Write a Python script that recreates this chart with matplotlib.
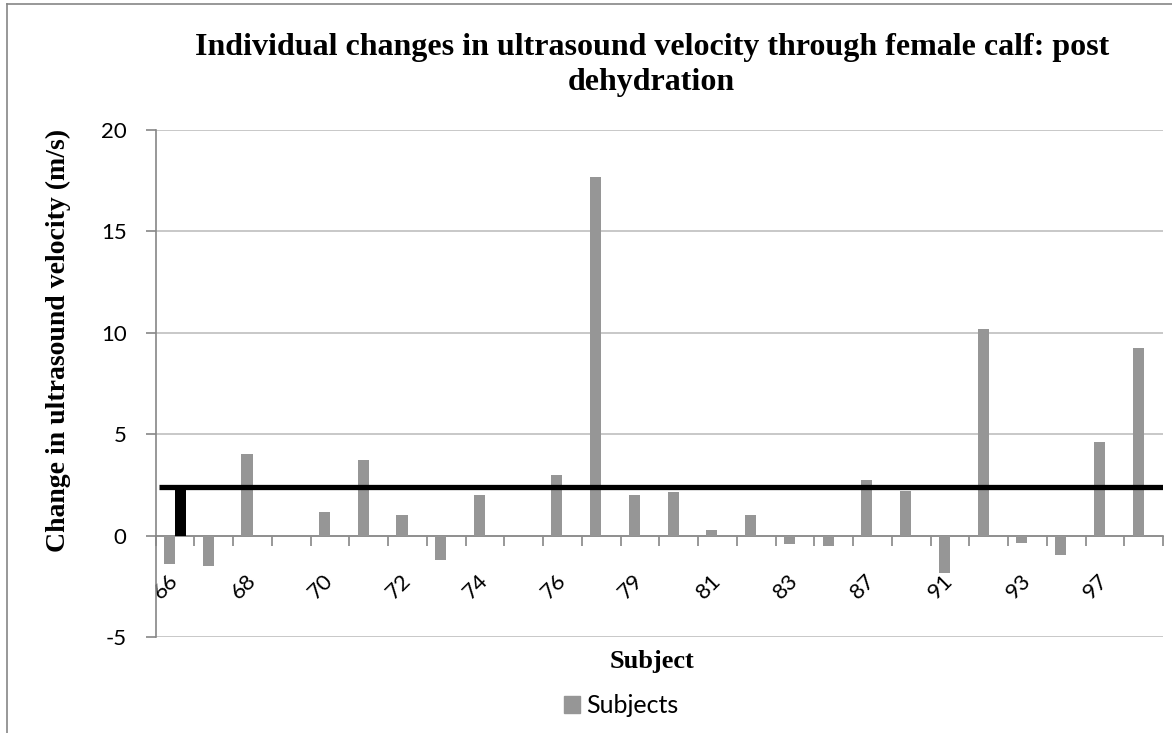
import matplotlib
matplotlib.use("Agg")
import matplotlib.pyplot as plt
from matplotlib.lines import Line2D
from matplotlib.patches import Patch
import numpy as np

plt.rcParams['axes.unicode_minus'] = False

# subject ids (only every other one is labelled on the axis)
subjects = ['66', '67', '68', '69', '70', '71', '72', '73', '74', '75', '76', '77', '79',
            '80', '81', '82', '83', '84', '87', '88', '91', '92', '93', '94', '97', '98']
# change in ultrasound velocity (m/s)
changes = [-1.4, -1.5, 4.0, 0.0, 1.15, 3.75, 1.0, -1.2, 2.0, 0.0, 3.0, 17.7, 2.0,
           2.15, 0.3, 1.0, -0.4, -0.5, 2.75, 2.2, -1.85, 10.2, -0.35, -0.95, 4.6, 9.25]
# second series, only the first subject has a value
mean_bar = [2.3]
mean_line = 2.42

grey = '#969696'
axis_grey = '#868686'
grid_grey = '#bfbfbf'

fig = plt.figure(figsize=(11.72, 7.33), dpi=100)
ax = fig.add_axes([155.7/1172, 96/733, (1163-155.7)/1172, 507/733])

x = np.arange(len(subjects))
w = 1/3.5
ax.bar(x - w/2, changes, width=w, color=grey, zorder=3, label='Subjects')
ax.bar(x[:len(mean_bar)] + w/2, mean_bar, width=w, color='black', zorder=3)
ax.hlines(mean_line, -0.41, len(subjects) - 0.5, color='black', linewidth=3.8, zorder=4)

ax.set_xlim(-0.5, len(subjects) - 0.5)
ax.set_ylim(-5, 20)
ax.set_yticks([-5, 0, 5, 10, 15, 20])
ax.yaxis.grid(True, color=grid_grey, linewidth=1.2, zorder=0)
ax.set_axisbelow(True)

for s in ['top', 'right']:
    ax.spines[s].set_visible(False)
ax.spines['left'].set_color(axis_grey)
ax.spines['bottom'].set_color(axis_grey)
ax.spines['bottom'].set_position(('data', 0))
ax.spines['left'].set_linewidth(1.2)
ax.spines['bottom'].set_linewidth(1.2)

# category labels every other subject
ax.set_xticks(x[::2])
ax.set_xticklabels(subjects[::2], rotation=45, ha='right', va='center',
                   rotation_mode='anchor', fontsize=16, family='Lato')
ax.tick_params(axis='x', which='major', length=0, pad=30)
ax.set_xticks(np.arange(-0.5, len(subjects) + 0.5, 1), minor=True)
ax.tick_params(axis='x', which='minor', length=7, width=1.2, color=axis_grey, direction='out')
ax.tick_params(axis='y', length=7, width=1.2, color=axis_grey, pad=14, labelsize=16)
for t in ax.get_yticklabels():
    t.set_family('Lato')

# title, two lines
fig.text(0.556, 1 - 55/733, 'Individual changes in ultrasound velocity through female calf: post',
         ha='center', va='baseline', fontsize=23, fontweight='bold', family='Liberation Serif')
fig.text(0.556, 1 - 90/733, 'dehydration',
         ha='center', va='baseline', fontsize=23, fontweight='bold', family='Liberation Serif')
fig.text(0.05, 0.536, 'Change in ultrasound velocity (m/s)', rotation=90, ha='center', va='center',
         fontsize=20, fontweight='bold', family='Liberation Serif')
fig.text(0.556, 0.097, 'Subject', ha='center', va='center', fontsize=19,
         fontweight='bold', family='Liberation Serif')

fig.legend(handles=[Patch(color=grey, label='Subjects')], loc='center', bbox_to_anchor=(0.53, 0.037),
           frameon=False, prop={'family': 'Lato', 'size': 18}, handlelength=0.65, handleheight=0.65,
           handletextpad=0.25)

# outer chart frame
fig.add_artist(Line2D([7/1172, 7/1172], [0, 1 - 4/733], transform=fig.transFigure, color=axis_grey, lw=1.2))
fig.add_artist(Line2D([7/1172, 1], [1 - 4/733, 1 - 4/733], transform=fig.transFigure, color=axis_grey, lw=1.2))

fig.savefig('out.png', dpi=100)
